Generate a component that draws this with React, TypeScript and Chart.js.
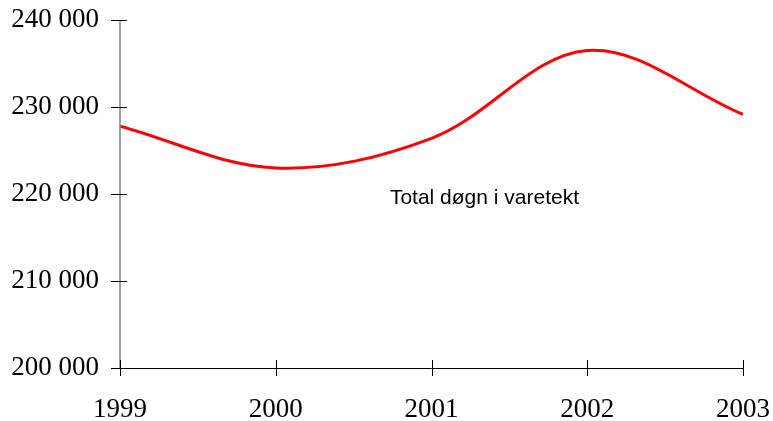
import React, { useEffect, useRef } from "react";
import { Chart, registerables } from "chart.js";

Chart.register(...registerables);

const years = [1999, 2000, 2001, 2002, 2003];
const values = [227800, 223000, 226400, 236500, 229150];
const yTicks = [200000, 210000, 220000, 230000, 240000];
const seriesLabel = "Total døgn i varetekt";
const labelPos = { x: 2001.34, y: 219500 };

const fmt = (v: number) => {
  const s = Math.round(v).toString();
  return s.replace(/\B(?=(\d{3})+(?!\d))/g, " ");
};

const axesPlugin = {
  id: "axesDraw",
  afterDraw(chart: any) {
    const { ctx, chartArea, scales } = chart;
    const xs = scales.x;
    const ys = scales.y;
    ctx.save();
    ctx.strokeStyle = "#808080";
    ctx.lineWidth = 1.5;
    ctx.beginPath();
    ctx.moveTo(chartArea.left, chartArea.top);
    ctx.lineTo(chartArea.left, chartArea.bottom);
    ctx.stroke();
    ctx.strokeStyle = "#000";
    ctx.lineWidth = 1;
    ctx.beginPath();
    ctx.moveTo(chartArea.left, chartArea.bottom + 0.5);
    ctx.lineTo(chartArea.right, chartArea.bottom + 0.5);
    ctx.stroke();
    yTicks.forEach((v) => {
      const py = Math.round(ys.getPixelForValue(v)) + 0.5;
      ctx.beginPath();
      ctx.moveTo(chartArea.left - 9, py);
      ctx.lineTo(chartArea.left + 7, py);
      ctx.stroke();
    });
    years.forEach((yr) => {
      const px = Math.round(xs.getPixelForValue(yr)) + 0.5;
      ctx.beginPath();
      ctx.moveTo(px, chartArea.bottom - 8);
      ctx.lineTo(px, chartArea.bottom + 8);
      ctx.stroke();
    });
    ctx.fillStyle = "#000";
    ctx.font = "21px 'Liberation Sans', Arial, sans-serif";
    ctx.textAlign = "center";
    ctx.textBaseline = "middle";
    ctx.fillText(seriesLabel, xs.getPixelForValue(labelPos.x), ys.getPixelForValue(labelPos.y));
    ctx.restore();
  },
};

export default function App() {
  const ref = useRef<HTMLCanvasElement | null>(null);
  useEffect(() => {
    if (!ref.current) return;
    const chart = new Chart(ref.current, {
      type: "line",
      data: {
        datasets: [
          {
            label: seriesLabel,
            data: years.map((yr, i) => ({ x: yr, y: values[i] })),
            borderColor: "#ff0000",
            borderWidth: 3,
            pointRadius: 0,
            tension: 0.35,
            fill: false,
          },
        ],
      },
      options: {
        animation: false,
        responsive: true,
        maintainAspectRatio: false,
        layout: { padding: { top: 20, right: 30, left: 0, bottom: 0 } },
        plugins: { legend: { display: false }, tooltip: { enabled: false } },
        scales: {
          x: {
            type: "linear",
            min: 1999,
            max: 2003,
            afterFit: (s: any) => {
              s.height = 53;
              s.paddingLeft = 0;
              s.paddingRight = 0;
            },
            afterBuildTicks: (s: any) => {
              s.ticks = years.map((v) => ({ value: v }));
            },
            grid: { display: false, drawTicks: false },
            border: { display: false },
            ticks: {
              autoSkip: false,
              maxRotation: 0,
              padding: 26,
              color: "#000",
              font: { family: "'Liberation Serif', 'Times New Roman', serif", size: 27 },
              callback: (v: any) => String(v),
            },
          },
          y: {
            min: 200000,
            max: 240000,
            afterFit: (s: any) => {
              s.width = 120;
              s.paddingTop = 0;
              s.paddingBottom = 0;
            },
            afterBuildTicks: (s: any) => {
              s.ticks = yTicks.map((v) => ({ value: v }));
            },
            grid: { display: false, drawTicks: false },
            border: { display: false },
            ticks: {
              autoSkip: false,
              padding: 21,
              color: "#000",
              font: { family: "'Liberation Serif', 'Times New Roman', serif", size: 27 },
              callback: (v: any) => fmt(Number(v)),
            },
          },
        },
      },
      plugins: [axesPlugin],
    });
    return () => chart.destroy();
  }, []);
  return (
    <div style={{ position: "fixed", left: 0, top: 0, width: 773, height: 421, background: "#fff" }}>
      <canvas ref={ref} />
    </div>
  );
}
